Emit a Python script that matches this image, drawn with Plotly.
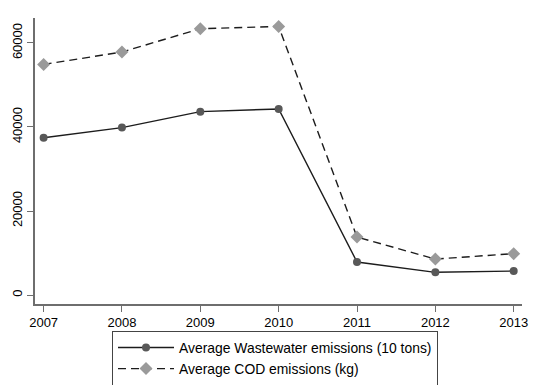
import plotly.graph_objects as go

years = [2007, 2008, 2009, 2010, 2011, 2012, 2013]
wastewater = [37450, 39850, 43650, 44300, 7850, 5400, 5700]
cod = [54900, 57850, 63400, 63950, 13800, 8550, 9850]
y_ticks = [0, 20000, 40000, 60000]

fig = go.Figure()
fig.add_trace(go.Scatter(
    x=years, y=wastewater, mode="lines+markers",
    name="Average Wastewater emissions (10 tons)",
    line=dict(color="#1c1c1c", width=1.4),
    marker=dict(symbol="circle", size=8, color="#585858"),
))
fig.add_trace(go.Scatter(
    x=years, y=cod, mode="lines+markers",
    name="Average COD emissions (kg)",
    line=dict(color="#1c1c1c", width=1.4, dash="8px,5px"),
    marker=dict(symbol="diamond", size=10, color="#9a9a9a"),
))

fig.update_layout(
    width=541, height=385,
    margin=dict(l=35, r=19, t=18, b=81, autoexpand=False),
    paper_bgcolor="white", plot_bgcolor="white",
    font=dict(family="Liberation Sans, Arial, sans-serif", size=13, color="black"),
    showlegend=True,
    legend=dict(
        xref="container", yref="container",
        x=112 / 541, y=1 - 331 / 385, xanchor="left", yanchor="top",
        bordercolor="#444", borderwidth=1,
        font=dict(size=13.9), itemwidth=56,
        tracegroupgap=0,
    ),
)
fig.update_xaxes(
    range=[2006.89, 2013.106], tickvals=years, ticktext=[str(y) for y in years],
    automargin=False,
    showgrid=False, zeroline=False, showline=True, linecolor="#6e6e6e", linewidth=1.5,
    ticks="outside", ticklen=6, tickcolor="#6e6e6e", tickwidth=1.3,
)
fig.update_yaxes(
    range=[-2143, 65950], tickvals=y_ticks, ticktext=[str(v) for v in y_ticks],
    tickangle=-90, automargin=False,
    showgrid=False, zeroline=False, showline=True, linecolor="#6e6e6e", linewidth=1.5,
    ticks="outside", ticklen=6, tickcolor="#6e6e6e", tickwidth=1.3,
)

fig.write_html(
    "out.html",
    config={"displayModeBar": False},
    post_script="document.body.style.margin='0px';document.body.style.overflow='hidden';",
)
